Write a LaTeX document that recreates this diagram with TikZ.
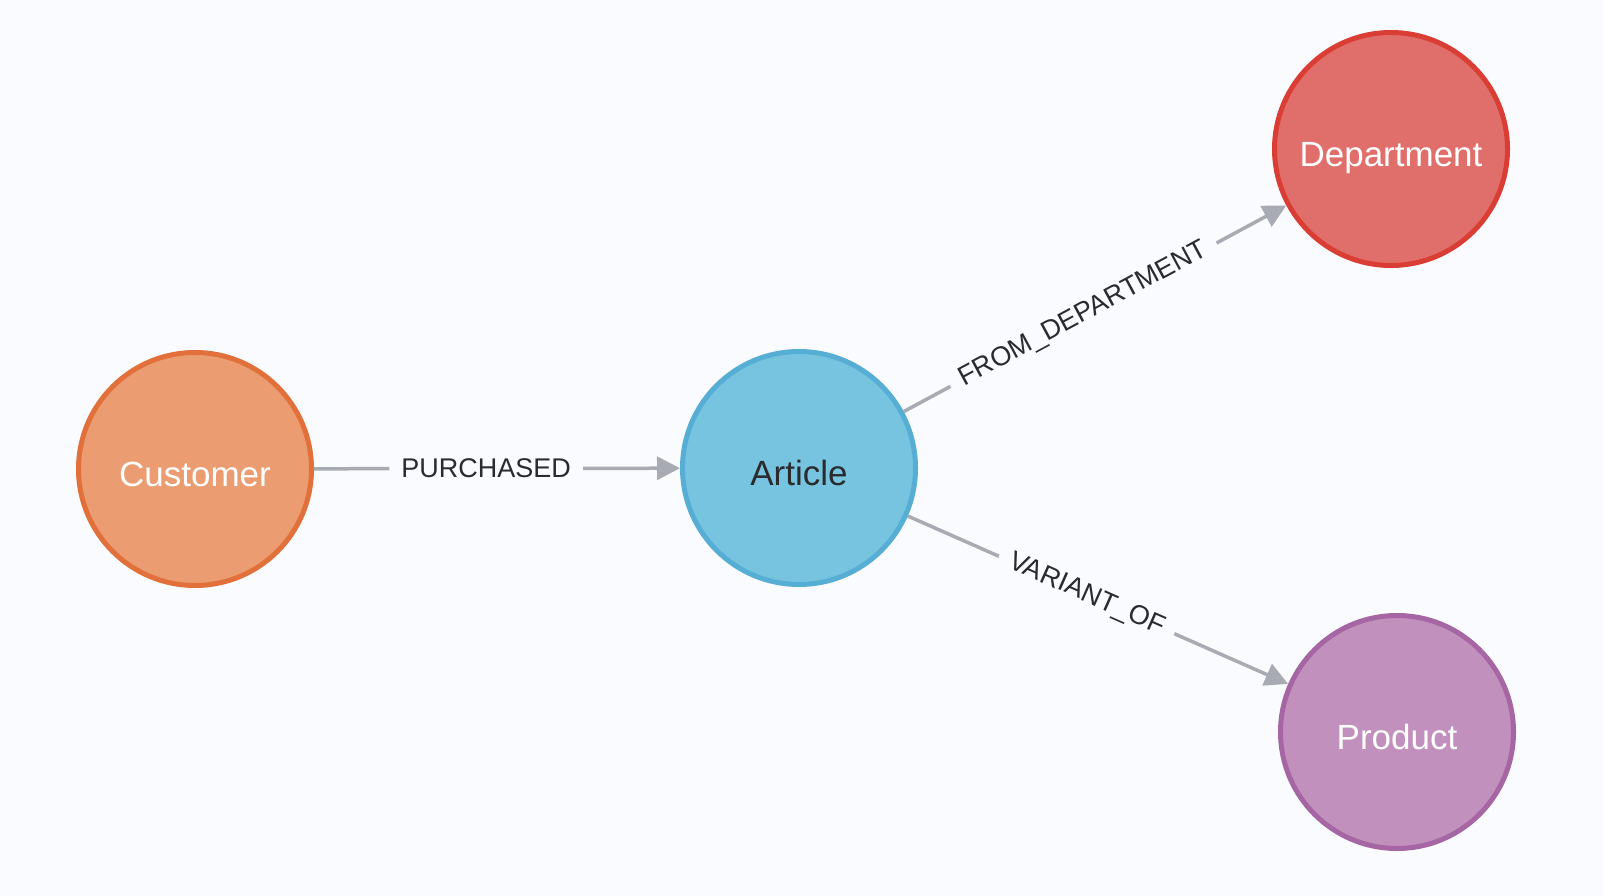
\documentclass[tikz,border=0pt]{standalone}
\usepackage{fontspec}
\setmainfont{Liberation Sans}
\usetikzlibrary{arrows.meta}
\definecolor{bg}{HTML}{F9FBFE}
\definecolor{custfill}{HTML}{EB9C70}
\definecolor{custline}{HTML}{E2703A}
\definecolor{artfill}{HTML}{76C4E0}
\definecolor{artline}{HTML}{57AED4}
\definecolor{depfill}{HTML}{E06F6B}
\definecolor{depline}{HTML}{DA3D34}
\definecolor{prodfill}{HTML}{C290BD}
\definecolor{prodline}{HTML}{A666A3}
\definecolor{edgecol}{HTML}{A8ABB3}
\definecolor{labtext}{HTML}{2B2B2E}
\tikzset{
  graphnode/.style={circle, minimum size=233pt, inner sep=0pt, line width=5pt,
    text height=35pt, text depth=0pt,
    font=\fontsize{35}{40}\selectfont},
  rel/.style={draw=edgecol, line width=3.5pt, -{Triangle[length=23pt,width=23pt]}},
  rellabel/.style={fill=bg, sloped, inner xsep=12pt, inner ysep=4pt, text=labtext,
    font=\fontsize{27}{30}\selectfont}
}
\begin{document}
\begin{tikzpicture}[x=1pt,y=-1pt]
\fill[bg] (0,0) rectangle (1603,896);
\useasboundingbox (0,0) rectangle (1603,896);
\node[graphnode, fill=custfill, draw=custline, text=white] (cust) at (195,469) {Customer};
\node[graphnode, fill=artfill, draw=artline, text=labtext] (art) at (799,468) {Article};
\node[graphnode, fill=depfill, draw=depline, text=white] (dep) at (1391,149) {Department};
\node[graphnode, fill=prodfill, draw=prodline, text=white] (prod) at (1397,732) {Product};
\draw[rel] (cust) -- node[rellabel, pos=0.47] (l1) {PURCHASED} (art);
\draw[rel] (art) -- node[rellabel, pos=0.47] (l2) {FROM\_DEPARTMENT} (dep);
\draw[rel] (art) -- node[rellabel, pos=0.47] (l3) {VARIANT\_OF} (prod);
\end{tikzpicture}
\end{document}
